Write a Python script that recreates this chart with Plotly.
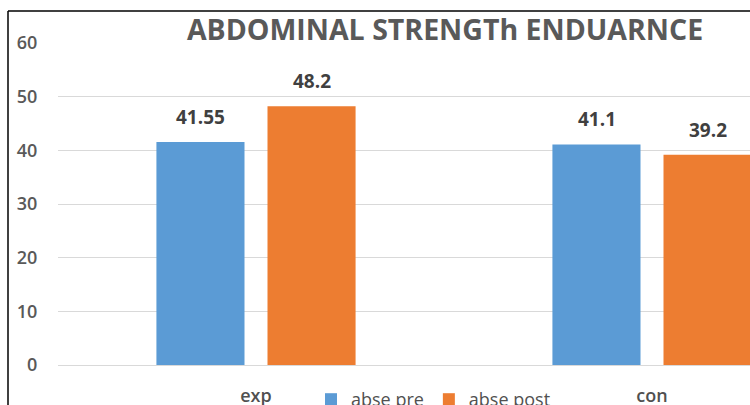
import plotly.graph_objects as go

categories = ["exp", "con"]
series_names = ["abse pre", "abse post"]
pre_values = [41.55, 41.1]
post_values = [48.2, 39.2]
pre_labels = ["41.55", "41.1"]
post_labels = ["48.2", "39.2"]
y_ticks = [0, 10, 20, 30, 40, 50, 60]

BLUE = "#5B9BD5"
ORANGE = "#ED7D31"
FONT = "Open Sans"

fig = go.Figure()
fig.add_trace(go.Bar(x=categories, y=pre_values, name=series_names[0],
                     marker=dict(color=BLUE, line=dict(width=0))))
fig.add_trace(go.Bar(x=categories, y=post_values, name=series_names[1],
                     marker=dict(color=ORANGE, line=dict(width=0))))

L, R, T, B = 58, 0, 43, 40
plot_w = 750 - L - R
plot_h = 405 - T - B
cat_px = 396.0
x_range = [-0.5, -0.5 + plot_w / cat_px]
slot = 111
for vals, labs, sgn in [(pre_values, pre_labels, -1), (post_values, post_labels, 1)]:
    for i, (v, t) in enumerate(zip(vals, labs)):
        fig.add_annotation(x=i, y=v, xref="x", yref="y", text=f"<b>{t}</b>",
                           showarrow=False, xshift=sgn * slot / 2, yshift=10,
                           yanchor="bottom", xanchor="center",
                           font=dict(family=FONT, size=19, color="#404040"))

fig.update_layout(
    width=750, height=405,
    margin=dict(l=L, r=R, t=T, b=B, pad=0, autoexpand=False),
    paper_bgcolor="white", plot_bgcolor="white",
    barmode="group", bargap=0.439, bargroupgap=0.207,
    title=dict(text="<b>ABDOMINAL STRENGTh ENDUARNCE</b>",
               x=445 / 750, xref="container", xanchor="center",
               y=1 - 30 / 405, yref="container", yanchor="middle",
               font=dict(family=FONT, size=28.5, color="#595959")),
    showlegend=True,
    legend=dict(orientation="h", x=(311 - L) / plot_w, xanchor="left",
                y=-(381 - T - plot_h) / plot_h, yanchor="top",
                font=dict(family=FONT, size=18, color="#505050"),
                bgcolor="rgba(0,0,0,0)", itemwidth=30, tracegroupgap=0),
    xaxis=dict(range=x_range, showgrid=False, showline=False, zeroline=False,
               automargin=False,
               ticks="outside", ticklen=14, tickcolor="rgba(0,0,0,0)",
               tickfont=dict(family=FONT, size=18, color="#505050", weight=600)),
    yaxis=dict(range=[0, 60], tickvals=y_ticks, showgrid=True, automargin=False,
               gridcolor="#D9D9D9", gridwidth=1, zeroline=True,
               zerolinecolor="#D9D9D9", zerolinewidth=1, showline=False,
               ticks="outside", ticklen=16, tickcolor="rgba(0,0,0,0)",
               tickfont=dict(family=FONT, size=18, color="#595959", weight=600)),
    shapes=[
        dict(type="line", xref="paper", yref="paper",
             x0=(8 - L) / plot_w, x1=1.0, y0=1 + (T - 11) / plot_h, y1=1 + (T - 11) / plot_h,
             line=dict(color="black", width=1.5)),
        dict(type="line", xref="paper", yref="paper",
             x0=(8 - L) / plot_w, x1=(8 - L) / plot_w, y0=1 + (T - 11) / plot_h,
             y1=-(B + 5) / plot_h,
             line=dict(color="black", width=1.5)),
    ],
)

fig.write_html("out.html")
